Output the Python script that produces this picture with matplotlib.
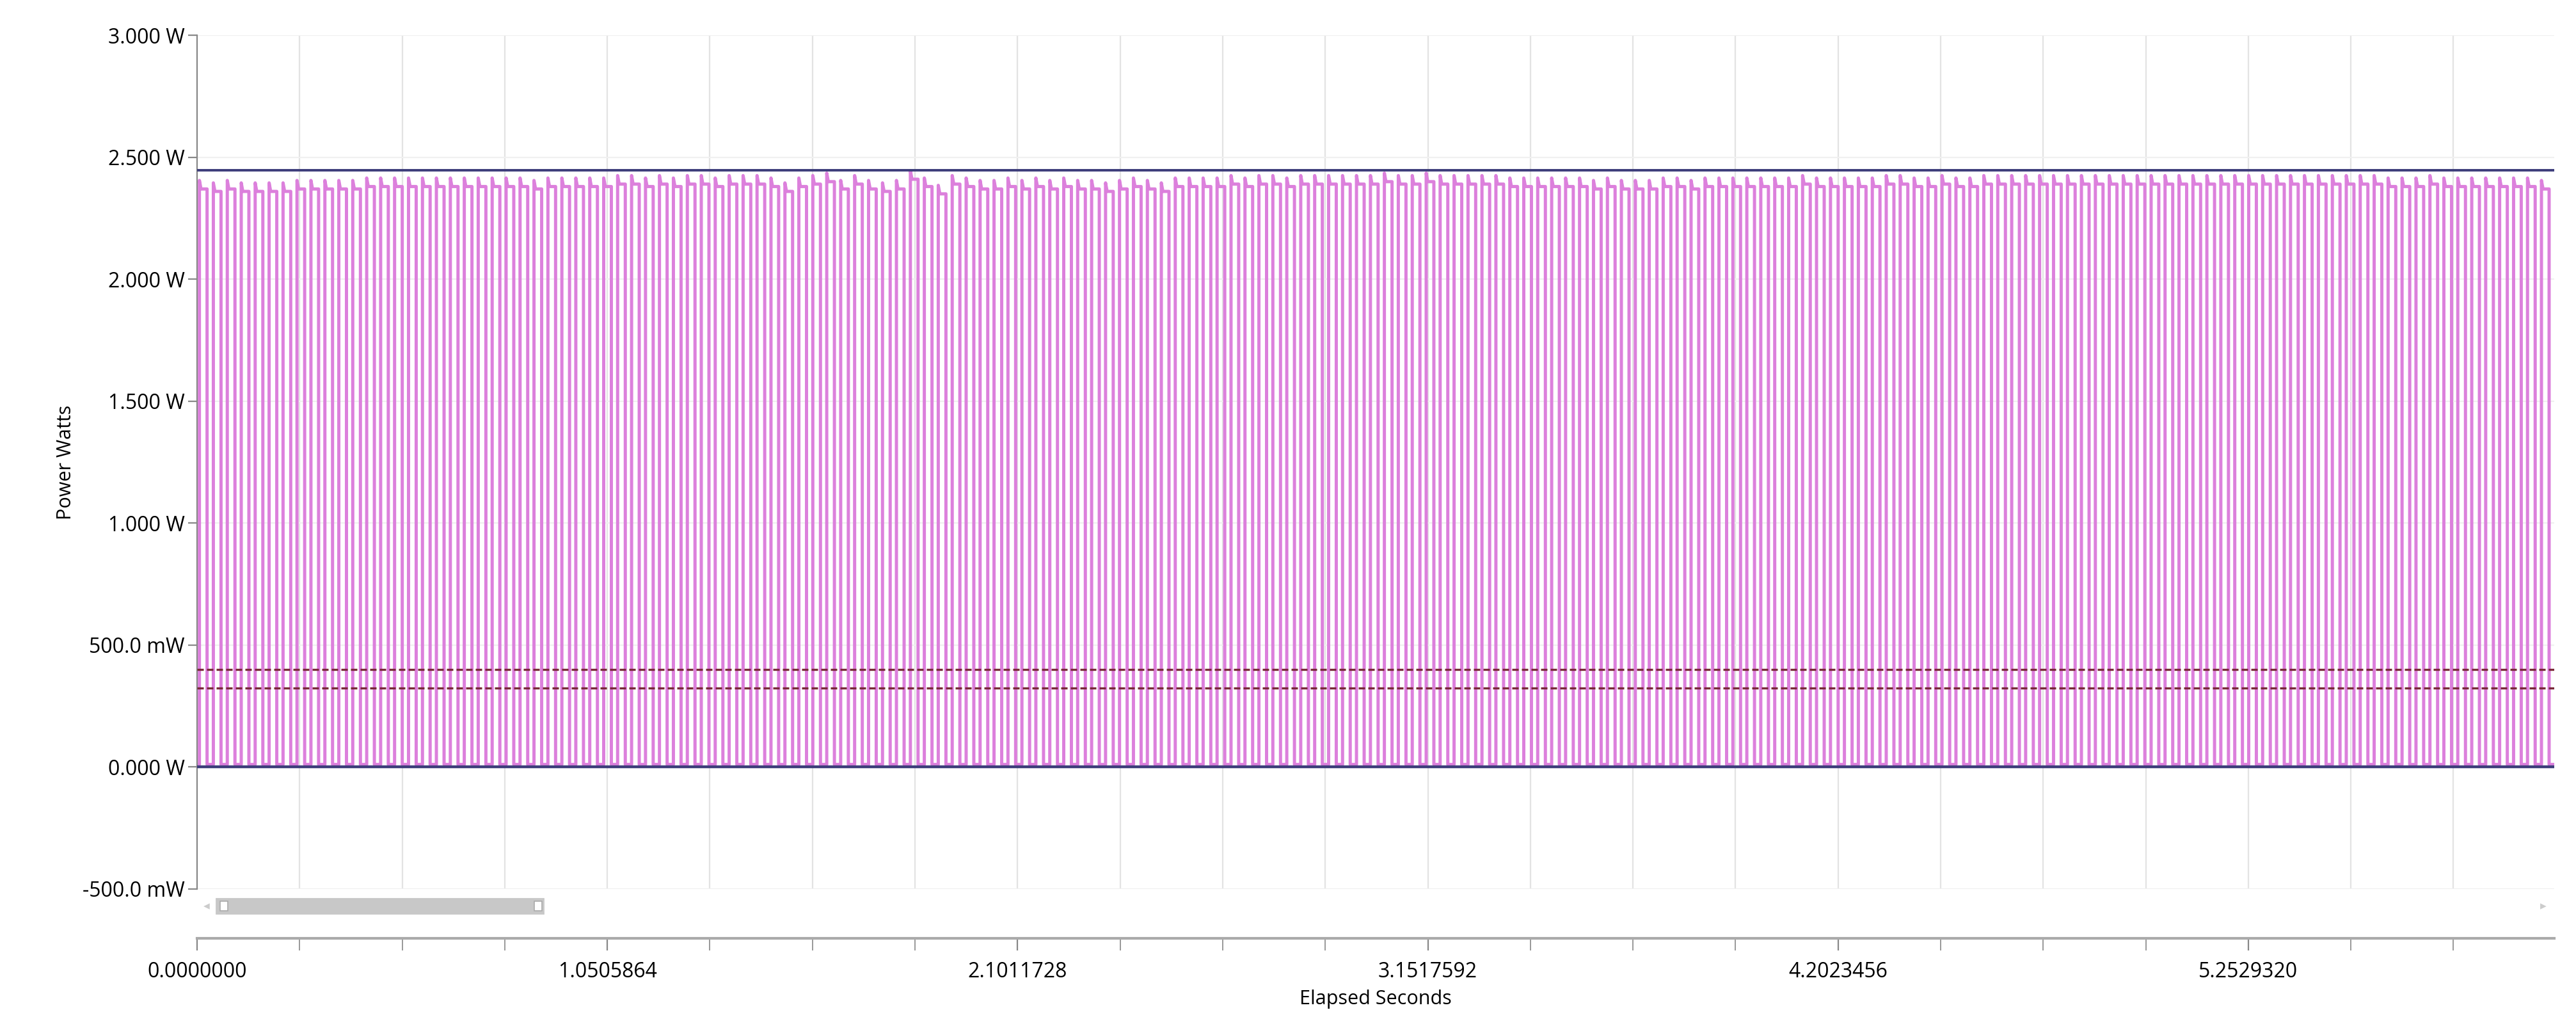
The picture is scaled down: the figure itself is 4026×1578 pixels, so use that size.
import matplotlib
matplotlib.use("Agg")
import matplotlib.pyplot as plt
from matplotlib.patches import FancyBboxPatch
import numpy as np

plt.rcParams['font.family'] = ['Open Sans', 'DejaVu Sans']

# ---- data ----
period = 0.0357          # pulse period (s)
duty = 0.55              # fraction of period high
low_level = 0.010        # W between pulses
overshoot = 0.035        # W spike at pulse start
plateaus = [
 2.37,2.36,2.37,2.36,2.36,2.36,2.36,2.37,2.37,2.37,2.37,2.37,2.38,2.38,2.38,2.38,2.38,2.38,2.38,2.38,
 2.38,2.38,2.38,2.38,2.37,2.38,2.38,2.38,2.38,2.38,2.39,2.39,2.38,2.39,2.38,2.39,2.39,2.38,2.39,2.39,
 2.39,2.38,2.36,2.38,2.39,2.40,2.37,2.39,2.37,2.36,2.37,2.41,2.38,2.35,2.39,2.38,2.37,2.37,2.38,2.37,
 2.38,2.37,2.38,2.37,2.37,2.36,2.37,2.38,2.37,2.36,2.38,2.38,2.38,2.38,2.39,2.38,2.39,2.39,2.38,2.39,
 2.39,2.39,2.39,2.39,2.39,2.40,2.39,2.39,2.40,2.39,2.39,2.39,2.39,2.39,2.38,2.38,2.38,2.38,2.38,2.38,
 2.37,2.38,2.37,2.37,2.37,2.38,2.38,2.37,2.38,2.38,2.38,2.38,2.38,2.38,2.38,2.39,2.38,2.38,2.38,2.38,
 2.38,2.39,2.39,2.38,2.38,2.39,2.38,2.38,2.39,2.39,2.39,2.39,2.39,2.39,2.39,2.39,2.39,2.39,2.39,2.39,
 2.39,2.39,2.39,2.39,2.39,2.39,2.39,2.39,2.39,2.39,2.39,2.39,2.39,2.39,2.39,2.39,2.39,2.38,2.38,2.38,
 2.39,2.38,2.38,2.38,2.38,2.38,2.38,2.38,2.37]
max_line = 2.448
min_line = 0.0
dashed_lines = [0.400, 0.322]
x_max = 6.036
x_major = [0.0, 1.0505864, 2.1011728, 3.1517592, 4.2023456, 5.2529320]
x_major_labels = ["0.0000000", "1.0505864", "2.1011728", "3.1517592", "4.2023456", "5.2529320"]
x_minor_step = 0.2626466
y_ticks = [-0.5, 0.0, 0.5, 1.0, 1.5, 2.0, 2.5, 3.0]
y_labels = ["-500.0 mW", "0.000 W", "500.0 mW", "1.000 W", "1.500 W", "2.000 W", "2.500 W", "3.000 W"]

# ---- waveform ----
t, p = [0.0], [low_level]
for i, h in enumerate(plateaus):
    t0 = 0.006 + i * period
    t += [t0, t0, t0 + 0.004, t0 + duty * period, t0 + duty * period]
    p += [low_level, h + overshoot, h, h, low_level]
t.append(x_max); p.append(low_level)

L, W = 0.0765, 0.915
fig = plt.figure(figsize=(20.13, 7.89), dpi=200)
ax = fig.add_axes([L, 0.12, W, 0.845])
ax.set_xlim(0, x_max)
ax.set_ylim(-0.5, 3.0)
minor = np.arange(0, x_max, x_minor_step)
for xv in minor[1:]:
    ax.axvline(xv, color="#e3e3e3", lw=0.8, zorder=0)
for yv in y_ticks:
    ax.axhline(yv, color="#f0f0f0", lw=0.8, zorder=0)
ax.plot(t, p, color="#dc80dc", lw=1.8, zorder=2)
ax.axhline(max_line, color="#3d3d7a", lw=1.4, zorder=3)
ax.axhline(min_line, color="#3d3d7a", lw=1.6, zorder=3)
for d in dashed_lines:
    ax.axhline(d, color="#7a2a3a", lw=1.2, ls=(0, (3, 1.5)), zorder=3)
ax.set_yticks(y_ticks)
ax.set_yticklabels(y_labels, fontsize=11.5)
ax.set_xticks([])
ax.set_ylabel("Power Watts", fontsize=11)
for s in ["top", "right", "bottom"]:
    ax.spines[s].set_visible(False)
ax.spines["left"].set_color("#888888")
ax.tick_params(axis="y", color="#888888", length=5, pad=2)

# x axis strip
ax2 = fig.add_axes([L, 0.071, W, 0.001])
ax2.set_xlim(0, x_max)
ax2.set_yticks([])
for s in ["top", "right", "left"]:
    ax2.spines[s].set_visible(False)
ax2.spines["bottom"].set_color("#aaaaaa")
ax2.spines["bottom"].set_linewidth(1.5)
ax2.set_xticks(x_major)
ax2.set_xticklabels(x_major_labels, fontsize=11.5)
ax2.set_xticks(minor, minor=True)
ax2.tick_params(axis="x", which="both", direction="out", length=7, color="#888888", pad=6)
ax2.set_xlabel("Elapsed Seconds", fontsize=11)

# scrollbar
fig.add_artist(FancyBboxPatch((0.084, 0.096), 0.127, 0.014, boxstyle="square,pad=0",
                              transform=fig.transFigure, fc="#c8c8c8", ec="#c8c8c8"))
for xx in [0.0855, 0.2075]:
    fig.add_artist(FancyBboxPatch((xx, 0.098), 0.003, 0.010, boxstyle="square,pad=0",
                                  transform=fig.transFigure, fc="white", ec="#aaaaaa", lw=0.6))
fig.text(0.079, 0.103, "◂", color="#cccccc", fontsize=7, va="center", family="DejaVu Sans")
fig.text(0.986, 0.103, "▸", color="#cccccc", fontsize=7, va="center", family="DejaVu Sans")

fig.savefig("out.png", dpi=200, facecolor="white")
